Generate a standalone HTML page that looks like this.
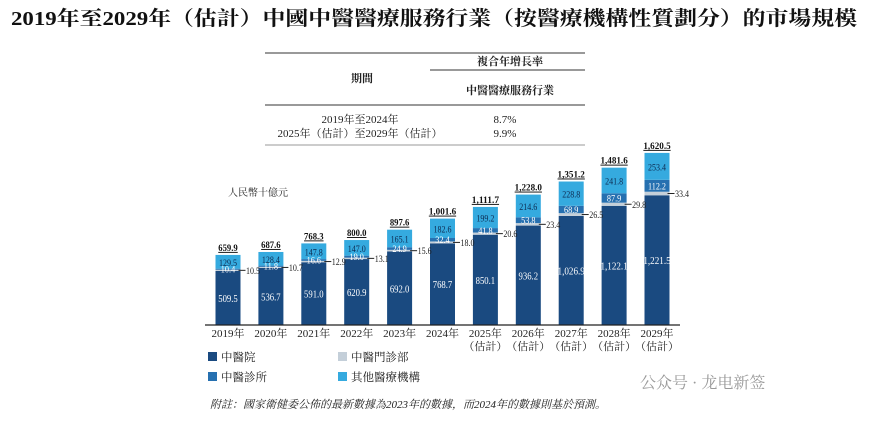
<!DOCTYPE html>
<html><head><meta charset="utf-8"><style>
body{margin:0;width:869px;height:416px;background:#fff;overflow:hidden;font-family:"Liberation Serif","Noto Serif CJK SC",serif;}
svg text{font-family:"Liberation Serif","Noto Serif CJK SC",serif;}
</style></head><body>
<svg width="869" height="416">
<text x="11" y="25" font-size="20" font-weight="bold" fill="#111" textLength="846" lengthAdjust="spacingAndGlyphs">2019年至2029年（估計）中國中醫醫療服務行業（按醫療機構性質劃分）的市場規模</text>
<g font-size="11" fill="#222">
<line x1="265" y1="53" x2="585" y2="53" stroke="#333"/>
<line x1="430" y1="70" x2="585" y2="70" stroke="#333"/>
<line x1="265" y1="105" x2="585" y2="105" stroke="#333"/>
<line x1="265" y1="145" x2="585" y2="145" stroke="#333" stroke-width="0.6"/>
<text x="510" y="65" text-anchor="middle" font-weight="bold">複合年增長率</text>
<text x="362" y="82" text-anchor="middle" font-weight="bold">期間</text>
<text x="510" y="94" text-anchor="middle" font-weight="bold">中醫醫療服務行業</text>
<text x="360" y="123" text-anchor="middle">2019年至2024年</text>
<text x="360" y="137" text-anchor="middle">2025年（估計）至2029年（估計）</text>
<text x="505" y="123" text-anchor="middle">8.7%</text>
<text x="505" y="137" text-anchor="middle">9.9%</text>
</g>
<text x="228" y="196" font-size="10" fill="#222">人民幣十億元</text>
<g id="bars"></g>
<g id="labels"></g>
<line x1="205" y1="325" x2="680" y2="325" stroke="#222" stroke-width="1.2"/>
<g font-size="11.5" fill="#222">
<rect x="208" y="352" width="9" height="9" fill="#1a4a80"/><text x="221" y="361">中醫院</text>
<rect x="338" y="352" width="9" height="9" fill="#c4cfd9"/><text x="351" y="361">中醫門診部</text>
<rect x="208" y="372" width="9" height="9" fill="#2670b0"/><text x="221" y="381">中醫診所</text>
<rect x="338" y="372" width="9" height="9" fill="#35aadf"/><text x="351" y="381">其他醫療機構</text>
</g>
<text x="210" y="408" font-size="11" font-style="italic" fill="#222">附註：國家衛健委公佈的最新數據為2023年的數據，而2024年的數據則基於預測。</text>
<text x="640" y="388" font-size="16" fill="#999">公众号 · 龙电新签</text>
</svg>
<script>
const years=["2019年","2020年","2021年","2022年","2023年","2024年","2025年","2026年","2027年","2028年","2029年"];
const est=[false,false,false,false,false,false,true,true,true,true,true];
const hospital=[509.5,536.7,591.0,620.9,692.0,768.7,850.1,936.2,1026.9,1122.1,1221.5];
const outpatient=[10.5,10.7,12.9,13.1,15.6,18.0,20.6,23.4,26.5,29.8,33.4];
const clinic=[10.4,11.8,16.6,19.0,24.9,32.4,41.8,53.8,68.9,87.9,112.2];
const other=[129.5,128.4,147.8,147.0,165.1,182.6,199.2,214.6,228.8,241.8,253.4];
const totals=["659.9","687.6","768.3","800.0","897.6","1,001.6","1,111.7","1,228.0","1,351.2","1,481.6","1,620.5"];
const base=325,scale=0.1062,x0=228,step=42.9,bw=25;
const xs=i=>x0+i*step, ys=v=>v*scale;
const ns="http://www.w3.org/2000/svg",g=document.getElementById('bars'),L=document.getElementById('labels');
function mk(t,a,p){const e=document.createElementNS(ns,t);for(const k in a)e.setAttribute(k,a[k]);(p||g).appendChild(e);return e;}
const fmt=v=>v>=1000?v.toLocaleString('en-US',{minimumFractionDigits:1}):v.toFixed(1);
function txt(s,a,cw){const e=mk('text',Object.assign({lengthAdjust:'spacingAndGlyphs',textLength:s.length*cw},a),L);e.textContent=s;return e;}
years.forEach((yr,i)=>{
 const cx=xs(i);let y=base;
 const segs=[[hospital[i],'#1a4a80','hospital'],[outpatient[i],'#c4cfd9','outpatient'],[clinic[i],'#2670b0','clinic'],[other[i],'#35aadf','other']];
 const tops=[];
 segs.forEach(([v,c,n])=>{const h=ys(v);y-=h;
  const r=mk('rect',{x:cx-bw/2,y:y,width:bw,height:h,fill:c});
  
  
  tops.push([y,h]);});
 const t1=txt(fmt(hospital[i]),{x:cx,y:tops[0][0]+tops[0][1]/2+4,'text-anchor':'middle','font-size':10,fill:'#fff'},3.9);
 
 
 const t3=txt(fmt(clinic[i]),{x:cx,y:tops[2][0]+tops[2][1]/2+3.5,'text-anchor':'middle','font-size':9,fill:'#fff'},3.6);
 
 
 const t4=txt(fmt(other[i]),{x:cx,y:tops[3][0]+tops[3][1]/2+4,'text-anchor':'middle','font-size':9.5,fill:'#0d2a50'},3.6);
 
 
 const ly=tops[1][0]+tops[1][1]/2;
 const ln=mk('line',{x1:cx+bw/2-2,y1:ly,x2:cx+bw/2+5,y2:ly,stroke:'#222'},L);
 
 
 const t2=txt(fmt(outpatient[i]),{x:cx+bw/2+5.5,y:ly+3.5,'font-size':9.5,fill:'#222'},3.5);
 
 
 const tt=txt(totals[i],{x:cx,y:tops[3][0]-4,'text-anchor':'middle','font-size':9.5,'font-weight':'bold',fill:'#111','text-decoration':'underline'},3.9);
 
 
 const xl=mk('text',{x:cx,y:base+12,'text-anchor':'middle','font-size':11,fill:'#222'},L);xl.textContent=yr;
 
 
 if(est[i]){const e=mk('text',{x:cx,y:base+25,'text-anchor':'middle','font-size':11,fill:'#222'},L);e.textContent='（估計）';
 
 }
});
</script>
</body></html>
